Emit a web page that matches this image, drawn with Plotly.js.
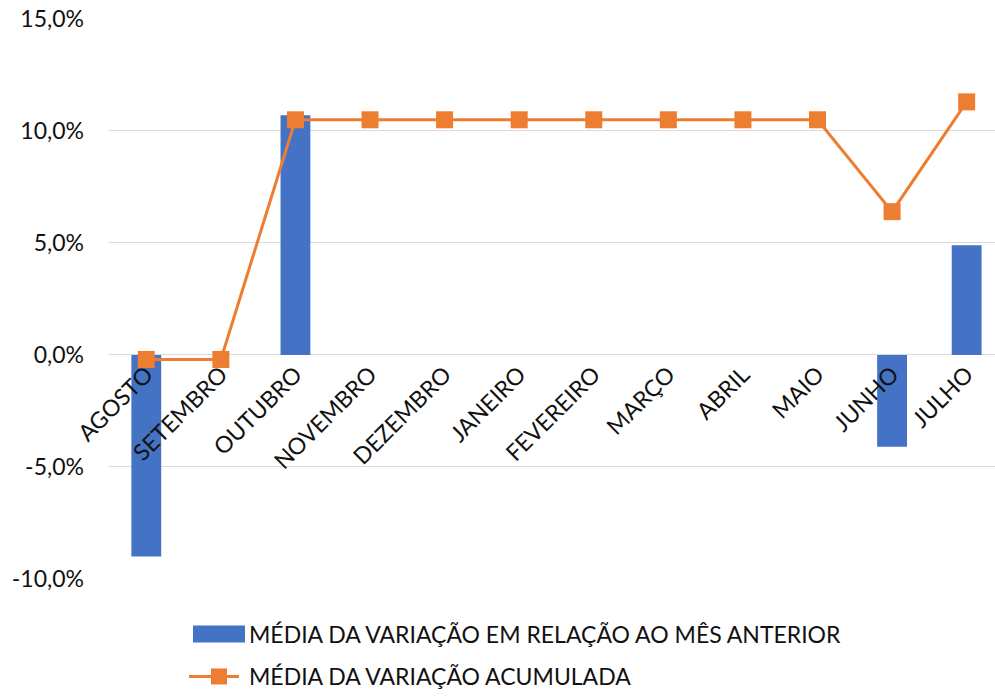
<!DOCTYPE html>
<html>
<head>
<meta charset="utf-8">
<script src="https://cdn.plot.ly/plotly-3.0.1.min.js"></script>
<style>
html, body { margin: 0; padding: 0; overflow: hidden; background: #fff; }
#chart { width: 995px; height: 698px; }
</style>
</head>
<body>
<div id="chart"></div>
<script>
const months = ["AGOSTO", "SETEMBRO", "OUTUBRO", "NOVEMBRO", "DEZEMBRO", "JANEIRO", "FEVEREIRO", "MARÇO", "ABRIL", "MAIO", "JUNHO", "JULHO"];
const monthlyVariation = [-9.0, 0, 10.7, 0, 0, 0, 0, 0, 0, 0, -4.1, 4.9];
const cumulativeVariation = [-0.2, -0.2, 10.5, 10.5, 10.5, 10.5, 10.5, 10.5, 10.5, 10.5, 6.4, 11.3];
const seriesNames = ["MÉDIA DA VARIAÇÃO EM RELAÇÃO AO MÊS ANTERIOR", "MÉDIA DA VARIAÇÃO ACUMULADA"];
const yTicks = [-10, -5, 0, 5, 10, 15];
const yTickLabels = ["-10,0%", "-5,0%", "0,0%", "5,0%", "10,0%", "15,0%"];

const FONT = "Lato, 'Open Sans', sans-serif";
const FS = 23;

const traces = [
  {
    type: "bar",
    x: months,
    y: monthlyVariation,
    name: seriesNames[0],
    legend: "legend",
    marker: { color: "#4472C4" },
    hoverinfo: "x+y"
  },
  {
    type: "scatter",
    mode: "lines+markers",
    x: months,
    y: cumulativeVariation,
    name: seriesNames[1],
    legend: "legend2",
    line: { color: "#ED7D31", width: 3 },
    marker: { color: "#ED7D31", symbol: "square", size: 17 },
    hoverinfo: "x+y"
  }
];

const legendStyle = {
  orientation: "v",
  x: 0.0903,
  xanchor: "left",
  itemwidth: 50,
  font: { family: FONT, size: FS, color: "#111111" },
  bgcolor: "rgba(0,0,0,0)"
};

const layout = {
  width: 995,
  height: 698,
  margin: { l: 109, r: 0, t: 19, b: 0 },
  paper_bgcolor: "#ffffff",
  plot_bgcolor: "#ffffff",
  font: { family: FONT, size: FS, color: "#111111" },
  bargap: 0.6,
  showlegend: true,
  legend: Object.assign({}, legendStyle, { y: 0.0943, yanchor: "middle" }),
  legend2: Object.assign({}, legendStyle, { y: 0, yanchor: "bottom" }),
  xaxis: {
    type: "category",
    range: [-0.5, 11.38],
    anchor: "free",
    position: 0.5041,
    tickangle: -45,
    showgrid: false,
    showline: false,
    zeroline: false,
    ticks: "",
    tickfont: { family: FONT, size: FS, color: "#111111" }
  },
  yaxis: {
    domain: [0.1753, 1],
    range: [-10, 15],
    tickvals: yTicks,
    ticktext: yTickLabels,
    showgrid: true,
    gridcolor: "#d9d9d9",
    gridwidth: 1,
    zeroline: true,
    zerolinecolor: "#d9d9d9",
    zerolinewidth: 1,
    showline: false,
    ticks: "",
    ticklabelstandoff: 24,
    tickfont: { family: FONT, size: FS, color: "#111111" }
  }
};

const gd = document.getElementById("chart");
function widenLegendKeys() {
  gd.querySelectorAll(".infolayer .traces").forEach(function (t) {
    const line = t.querySelectorAll("path.js-line");
    if (line.length) {
      line.forEach(function (p) { p.setAttribute("d", "M-7,0h57"); });
    } else {
      t.querySelectorAll(".legendpoints path").forEach(function (p) {
        p.setAttribute("d", "M-26,8.5H26V-8.5H-26Z");
      });
    }
  });
}
Plotly.newPlot(gd, traces, layout, { displayModeBar: false, staticPlot: true }).then(function () {
  widenLegendKeys();
  setTimeout(widenLegendKeys, 50);
});
</script>
</body>
</html>
